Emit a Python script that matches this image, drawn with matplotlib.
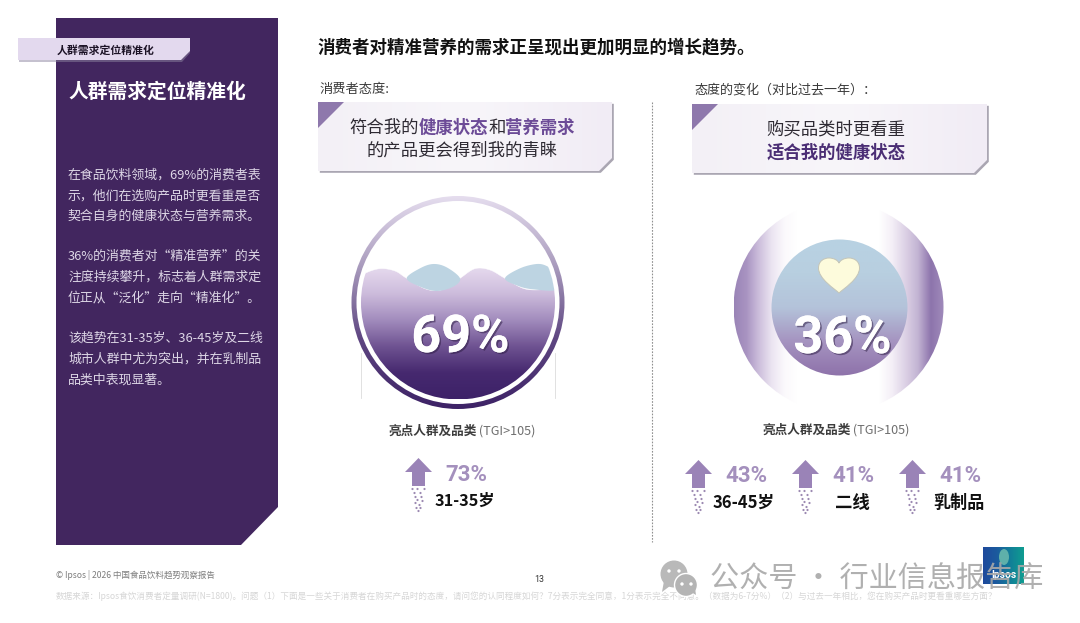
import numpy as np
import matplotlib
matplotlib.use("Agg")
import matplotlib.pyplot as plt
from matplotlib.patches import Polygon, Circle, PathPatch, Ellipse
from matplotlib.path import Path
from matplotlib.colors import LinearSegmentedColormap
import matplotlib.patheffects as pe

CJK = ['Noto Sans CJK SC', 'DejaVu Sans']
plt.rcParams['font.family'] = CJK

# ---- data ----
title = "消费者对精准营养的需求正呈现出更加明显的增长趋势。"
tag_label = "人群需求定位精准化"
panel_lines = [
    ("在食品饮料领域，69%的消费者表", 174), ("示，他们在选购产品时更看重是否", 195), ("契合自身的健康状态与营养需求。", 216),
    ("36%的消费者对“精准营养”的关", 255), ("注度持续攀升，标志着人群需求定", 276), ("位正从“泛化”走向“精准化”。", 297),
    ("该趋势在31-35岁、36-45岁及二线", 337), ("城市人群中尤为突出，并在乳制品", 358), ("品类中表现显著。", 379),
]
headline_values = [69, 36]
left_highlight_values = [73]
left_highlight_labels = ["31-35岁"]
right_highlight_values = [43, 41, 41]
right_highlight_labels = ["36-45岁", "二线", "乳制品"]
source = ("数据来源：Ipsos食饮消费者定量调研(N=1800)。问题（1）下面是一些关于消费者在购买产品时的态度，请问您的认同程度如何？"
          "7分表示完全同意，1分表示完全不同意。（数据为6-7分%）（2）与过去一年相比，您在购买产品时更看重哪些方面？")

W, H = 1080, 623
fig = plt.figure(figsize=(W / 100, H / 100), dpi=100, facecolor='white')
ax = fig.add_axes([0, 0, 1, 1])
ax.set_axis_off()
renderer = fig.canvas.get_renderer()


def gradient(extent, colors, clip, horizontal=False, z=2):
    x0, x1, y0, y1 = extent
    cmap = LinearSegmentedColormap.from_list('g', colors)
    g = np.linspace(0, 1, 256)
    arr = g[None, :] if horizontal else g[:, None]
    im = ax.imshow(arr, extent=(x0, x1, y1, y0), cmap=cmap, aspect='auto', zorder=z,
                   origin='upper', interpolation='bilinear')
    im.set_clip_path(clip)
    return im


def invisible(patch):
    patch.set_facecolor('none')
    patch.set_edgecolor('none')
    ax.add_patch(patch)
    return patch


def segments(cx, y, segs, size, z=6):
    ts = [ax.text(0, y, s, fontsize=size, color=c, fontweight=w, va='center', ha='left', zorder=z, family=CJK)
          for s, c, w in segs]
    ws = [t.get_window_extent(renderer).width for t in ts]
    x = cx - sum(ws) / 2
    for t, w in zip(ts, ws):
        t.set_x(x)
        x += w


def spline(points, closed=False, n=14):
    """Catmull-Rom outline through the given points."""
    p = np.array(points, float)
    if closed:
        p = np.vstack([p[-1], p, p[0], p[1]])
    else:
        p = np.vstack([p[0], p, p[-1]])
    out = []
    for i in range(1, len(p) - 2):
        a, b, c, d = p[i - 1], p[i], p[i + 1], p[i + 2]
        for t in np.linspace(0, 1, n, endpoint=False):
            out.append(.5 * (2 * b + (c - a) * t + (2 * a - 5 * b + 4 * c - d) * t ** 2 + (3 * b - a - 3 * c + d) * t ** 3))
    out.append(p[-2])
    return np.array(out)


# ---- left panel ----
ax.add_patch(Polygon([(56, 18), (278, 18), (278, 507), (241, 545), (56, 545)], fc='#42265f', ec='none', zorder=1))
ax.add_patch(Polygon([(19, 44), (190, 44), (190, 53), (182, 62), (19, 62)], fc='#8d84a0', ec='none', alpha=.5, zorder=2))
ax.add_patch(Polygon([(18, 38), (190, 38), (190, 51), (181, 60), (18, 60)], fc='#e3d9ee', ec='none', zorder=3))
ax.text(57, 50.5, tag_label, fontsize=7.8, fontweight='bold', color='#1c1326', va='center', zorder=4)
ax.text(68, 91.5, tag_label, fontsize=14.2, fontweight='bold', color='#ffffff', va='center', zorder=4)
for line, y in panel_lines:
    ax.text(68, y + 0.7, line, fontsize=9.3, color='#ddd6e6', va='center', zorder=4)

# ---- title ----
ax.text(317, 47, title, fontsize=12.6, fontweight='bold', color='#111111', va='center', zorder=4)
ax.text(319, 90, "消费者态度:", fontsize=9.5, color='#3a3a3a', va='center', zorder=4)
ax.text(694, 90, "态度的变化（对比过去一年）：", fontsize=9.4, color='#3a3a3a', va='center', zorder=4)

# divider
ax.plot([652, 652], [102, 542], color='#909090', lw=.8, ls=(0, (1.5, 1.3)), zorder=1)


# ---- callout boxes ----
def callout(x0, y0, x1, y1):
    cut = 13
    pts = [(x0, y0), (x1, y0), (x1, y1 - cut), (x1 - cut, y1), (x0, y1)]
    shadow = [(x + 1.8, y + 1.8) for x, y in pts]
    ax.add_patch(Polygon(shadow, fc='#aaa6b2', ec='none', zorder=1.5))
    clip = invisible(Polygon(pts))
    gradient((x0, x1, y0, y1), ['#f3f0f6', '#f8f6fa', '#f1ecf5'], clip, horizontal=True, z=2)
    ax.add_patch(Polygon([(x0, y0), (x0 + 26, y0), (x0, y0 + 26)], fc='#8e78ac', ec='none', zorder=3))


callout(318, 102, 612, 171)
callout(692, 104, 987, 173)

DARK, ACC = '#2e2a33', '#6c4b97'
segments(462, 127.5, [("符合我的", DARK, 'normal'), ("健康状态", ACC, 'bold'), ("和", DARK, 'normal'),
                      ("营养需求", ACC, 'bold')], 12.5)
segments(462, 150.5, [("的产品更会得到我的青睐", DARK, 'normal')], 12.5)
segments(836, 129.5, [("购买品类时更看重", DARK, 'normal')], 12.5)
segments(836, 152.5, [("适合我的健康状态", '#4b2e75', 'bold')], 12.5)

# ---- left gauge ----
cx, cy = 458, 302.5
ax.plot([361, 361], [353, 398], color='#dcdcdc', lw=.6, zorder=1)
ax.plot([555, 555], [353, 398], color='#dcdcdc', lw=.6, zorder=1)
ring = invisible(Circle((cx, cy), 106.5))
gradient((cx - 107, cx + 107, cy - 107, cy + 107), ['#e6deef', '#a99bbd', '#5f4782', '#3d2266'], ring, z=2)
ax.add_patch(Circle((cx, cy), 101.5, fc='white', ec='none', zorder=2.1))
inner = invisible(Circle((cx, cy), 97))
gradient((cx - 97, cx + 97, 268, cy + 97),
         ['#e6daee', '#cdbcdc', '#a28cbd', '#6f5392', '#46296f', '#3d2268'], inner, z=2.2)


def Z(pts):
    return [(x / 3 + 330, y / 3 + 190) for x, y in pts]


front = spline(Z([(85, 268), (105, 250), (150, 236), (195, 243), (230, 265), (290, 298), (340, 298), (390, 265),
                  (435, 236), (480, 240), (525, 265), (590, 298), (680, 296)]))
mask_xy = np.vstack([front, Z([(700, 296), (700, 120), (70, 120), (70, 268)])])
m = Polygon(mask_xy, fc='white', ec='white', lw=.3, zorder=2.3)
ax.add_patch(m)
m.set_clip_path(Circle((cx, cy), 97.5, transform=ax.transData))
blobs = [
    [(230, 265), (270, 235), (310, 222), (350, 232), (390, 265), (370, 290), (320, 303), (270, 290)],
    [(525, 265), (570, 235), (620, 222), (650, 228), (668, 245), (680, 298), (610, 298), (565, 288)],
]
for blob in blobs:
    b = Polygon(spline(Z(blob), closed=True), fc='#bdd4e2', ec='none', zorder=2.4)
    ax.add_patch(b)
    b.set_clip_path(Circle((cx, cy), 97, transform=ax.transData))

shadow_fx = [pe.withSimplePatchShadow(offset=(1.2, -1.2), shadow_rgbFace='#2a1a40', alpha=.5), pe.Normal()]
ax.text(460.5, 338, f"{headline_values[0]}%", fontsize=37.5, fontweight='bold', family='Roboto', color='white',
        ha='center', va='center', zorder=5, path_effects=shadow_fx)

# ---- right gauge ----
cx2, cy2 = 838.5, 307
outer = invisible(Circle((cx2, cy2), 105))
gradient((cx2 - 105, cx2 - 42, cy2 - 105, cy2 + 105), ['#9a84b6', '#a994c2', '#cdbfdc', '#ebe4f1', '#fbf9fc', '#ffffff'],
         outer, horizontal=True, z=2)
outer2 = invisible(Circle((cx2, cy2), 105))
gradient((cx2 + 40, cx2 + 105, cy2 - 105, cy2 + 105), ['#ffffff', '#f4eff7', '#ddd2e6', '#c3b4d3', '#8d74ac', '#a08bbb'],
         outer2, horizontal=True, z=2)
ax.add_patch(Polygon([(cx2 - 42, cy2 - 106), (cx2 + 40, cy2 - 106), (cx2 + 40, cy2 + 106), (cx2 - 42, cy2 + 106)],
                     fc='white', ec='none', zorder=2.1))
disc = invisible(Circle((839.5, 307.5), 68))
gradient((771, 908, 239, 376), ['#b8d2e3', '#b8cfe0', '#b4c3da', '#a593c0', '#8e72aa'], disc, z=2.2)
hx, hy = 839, 275
heart = Path([(hx, hy + 18), (hx - 4, hy + 14), (hx - 20.5, hy + 4), (hx - 20.5, hy - 7),
              (hx - 20.5, hy - 14), (hx - 15, hy - 17), (hx - 10, hy - 17),
              (hx - 5, hy - 17), (hx - 1, hy - 14.5), (hx, hy - 12),
              (hx + 1, hy - 14.5), (hx + 5, hy - 17), (hx + 10, hy - 17),
              (hx + 15, hy - 17), (hx + 20.5, hy - 14), (hx + 20.5, hy - 7),
              (hx + 20.5, hy + 4), (hx + 4, hy + 14), (hx, hy + 18), (hx, hy + 18)],
             [Path.MOVETO] + [Path.CURVE4] * 18 + [Path.CLOSEPOLY])
ax.add_patch(PathPatch(heart, fc='#fdfbdc', ec='#c4c5b8', lw=.7, joinstyle='round', zorder=3))
ax.text(842.5, 339, f"{headline_values[1]}%", fontsize=37.5, fontweight='bold', family='Roboto', color='white',
        ha='center', va='center', zorder=5, path_effects=shadow_fx)

# ---- highlights ----
segments(462, 431.5, [("亮点人群及品类", '#3d3d3d', 'bold'), (" (TGI>105)", '#6f6f6f', 'normal')], 9.1)
segments(836, 430.5, [("亮点人群及品类", '#3d3d3d', 'bold'), (" (TGI>105)", '#6f6f6f', 'normal')], 9.1)

DOTS = [(-6, 31), (-1, 31), (6, 31), (-4, 35), (2, 35), (-3, 39), (3, 39), (-1, 42), (4, 43),
        (-3, 45), (1, 47), (-2, 50), (2, 50), (0, 53)]
ARROW = '#9a83b7'


def arrow(xc, top):
    ax.add_patch(Polygon([(xc, top), (xc + 13.5, top + 14), (xc + 6.5, top + 14), (xc + 6.5, top + 28),
                          (xc - 6.5, top + 28), (xc - 6.5, top + 14), (xc - 13.5, top + 14)],
                         fc=ARROW, ec='none', zorder=3))
    for dx, dy in DOTS:
        ax.add_patch(Circle((xc + dx, top + dy), 1.1, fc='#9c8ab2', ec='none', zorder=3))


VAL = '#a490bd'
arrow(418.5, 458)
ax.text(466, 475, f"{left_highlight_values[0]}%", fontsize=16, fontweight='bold', family='Roboto', color=VAL,
        ha='center', va='center', zorder=5)
ax.text(465, 500.5, left_highlight_labels[0], fontsize=11.7, fontweight='bold', color='#111111',
        ha='center', va='center', zorder=5)
for xa, xv, xl, v, l, fs in zip([698.5, 805.5, 912.5], [746, 853.5, 960], [744, 852.5, 959.5],
                                right_highlight_values, right_highlight_labels, [12, 12.5, 12.3]):
    arrow(xa, 460)
    ax.text(xv, 476.5, f"{v}%", fontsize=16, fontweight='bold', family='Roboto', color=VAL,
            ha='center', va='center', zorder=5)
    ax.text(xl, 502.5, l, fontsize=fs, fontweight='bold', color='#111111', ha='center', va='center', zorder=5)

# ---- footer ----
ax.text(56, 575, "© Ipsos | 2026 中国食品饮料趋势观察报告", fontsize=6.15, color='#7d7d7d', va='center', zorder=4)
ax.text(539, 579, "13", fontsize=6.3, family='Roboto', color='#333333', ha='center', va='center', zorder=4)
ax.text(56, 596.5, source, fontsize=6.2, color='#d6d6d6', va='center', zorder=4)

# logo
logo = invisible(Polygon([(983, 547), (1024, 547), (1024, 584), (983, 584)]))
gradient((983, 1024, 547, 584), ['#1f4a9c', '#1b5a9e', '#127f98', '#0f9d90'], logo, horizontal=True, z=2)
ax.add_patch(Ellipse((1004, 557), 10, 16, fc='#5fb0aa', ec='none', zorder=2.2))
ax.text(1003.5, 574.5, "Ipsos", fontsize=7.4, fontweight='bold', family='Roboto', color='white',
        ha='center', va='center', zorder=3)

# watermark
ax.add_patch(Circle((674, 574), 13.5, fc='#b9b9b9', ec='none', zorder=6))
ax.add_patch(Polygon([(664, 581), (670, 586), (662, 592)], fc='#b9b9b9', ec='none', zorder=6))
ax.add_patch(Circle((686, 585), 11.5, fc='#b4b4b4', ec='white', lw=1, zorder=6.1))
ax.add_patch(Polygon([(691, 592), (696, 595), (695, 588)], fc='#b4b4b4', ec='none', zorder=6.1))
for px, py in [(669, 571), (679, 571), (682, 584), (691, 584)]:
    ax.add_patch(Circle((px, py), 1.7, fc='white', ec='none', zorder=6.2))
ax.text(710, 580, "公众号 · 行业信息报告库", fontsize=21, color='#a8a8a8', alpha=.9, va='center', zorder=7)

ax.set_xlim(0, W)
ax.set_ylim(H, 0)
fig.savefig('out.png', dpi=100, facecolor='white')
